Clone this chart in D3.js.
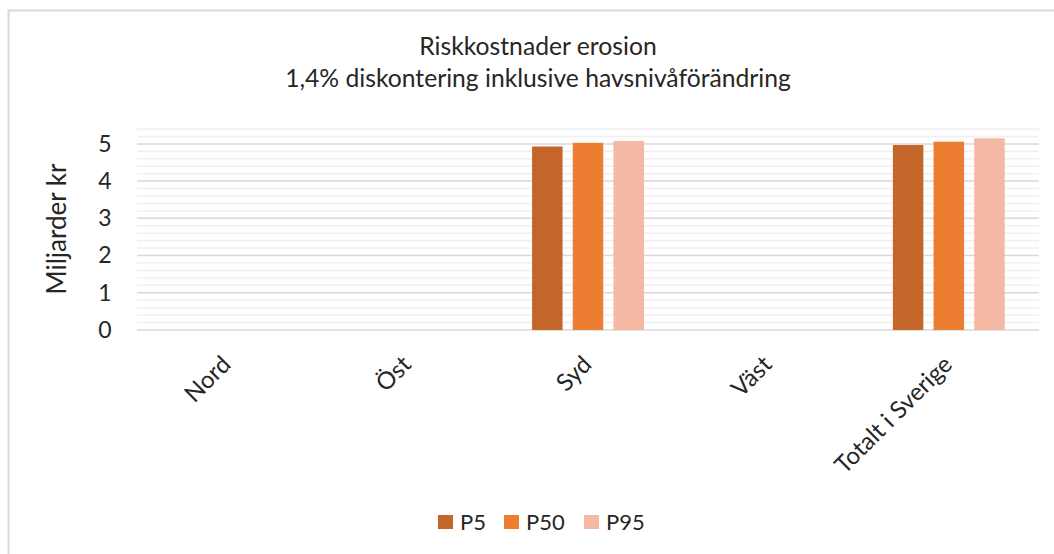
<!DOCTYPE html>
<html><head><meta charset="utf-8">
<script src="https://cdn.jsdelivr.net/npm/d3@7"></script>
<style>body{margin:0;background:#fff;} svg{display:block;} svg text{font-family:Lato,"Open Sans",sans-serif;}</style>
</head><body>
<svg id="c" width="1054" height="554"></svg>
<script>
const categories = ["Nord", "Öst", "Syd", "Väst", "Totalt i Sverige"];
const seriesNames = ["P5", "P50", "P95"];
const P5  = [0, 0, 4.93, 0, 4.97];
const P50 = [0, 0, 5.03, 0, 5.06];
const P95 = [0, 0, 5.08, 0, 5.15];
const yTicks = [0, 1, 2, 3, 4, 5];
const colors = ["#C4652A", "#ED7D31", "#F4B8A4"];
const titleLines = ["Riskkostnader erosion", "1,4% diskontering inklusive havsnivåförändring"];
const yTitle = "Miljarder kr";

(function () {
const svg = d3.select("#c");
svg.append("rect").attr("x", 8.5).attr("y", 10.5).attr("width", 1060).attr("height", 600)
  .attr("fill", "#fff").attr("stroke", "#d9d9d9").attr("stroke-width", 2);

const pL = 137, pR = 1039, pT = 129, pB = 330;
const y = d3.scaleLinear().domain([0, 5.4]).range([pB, pT]);
const x0 = d3.scaleBand().domain(categories).range([pL, pR]).paddingInner(0.38).paddingOuter(0.19);
const x1 = d3.scaleBand().domain(seriesNames).range([0, x0.bandwidth()]).paddingInner(0.25);

const minor = d3.range(0, 5.41, 0.2).filter(v => Math.abs(v - Math.round(v)) > 0.01);
svg.append("g").selectAll("line").data(minor).join("line")
  .attr("x1", pL).attr("x2", pR).attr("y1", d => y(d)).attr("y2", d => y(d))
  .attr("stroke", "#f0f0f0").attr("stroke-width", 1.5);
svg.append("g").selectAll("line").data(yTicks).join("line")
  .attr("x1", pL).attr("x2", pR).attr("y1", d => y(d)).attr("y2", d => y(d))
  .attr("stroke", "#d9d9d9").attr("stroke-width", 1.5);

const yAxis = d3.axisLeft(y).tickValues(yTicks).tickSize(0).tickPadding(0).tickFormat(d3.format("d"));
const ga = svg.append("g").attr("transform", `translate(${pL - 32},0)`).call(yAxis);
ga.select(".domain").remove();
ga.selectAll("text").attr("font-size", 23).attr("fill", "#262626")
  .attr("text-anchor", "middle").attr("dx", 0);

svg.append("text").attr("transform", `translate(66,229) rotate(-90)`).attr("text-anchor", "middle")
  .attr("font-size", 26).attr("fill", "#262626").text(yTitle);

const series = [P5, P50, P95];
const g = svg.append("g");
seriesNames.forEach((s, si) => {
  g.append("g").selectAll("rect").data(categories.map((c, i) => ({c, v: series[si][i]})).filter(d => d.v > 0))
    .join("rect")
    .attr("x", d => x0(d.c) + x1(s)).attr("width", x1.bandwidth())
    .attr("y", d => y(d.v)).attr("height", d => y(0) - y(d.v))
    .attr("fill", colors[si]);
});

const xAxis = d3.axisBottom(x0).tickSize(0).tickPadding(0);
const gx = svg.append("g").attr("transform", `translate(0,${pB})`).call(xAxis);
gx.select(".domain").remove();
gx.selectAll("text").attr("font-size", 24).attr("fill", "#262626")
  .attr("text-anchor", "end").attr("dy", 0).attr("y", 0)
  .attr("transform", "translate(5,36) rotate(-45)");

svg.append("g").selectAll("text").data(titleLines).join("text")
  .attr("x", 538).attr("y", (d, i) => 55 + i * 32).attr("text-anchor", "middle")
  .attr("font-size", 24.7).attr("fill", "#262626").text(d => d);

const legX = [438, 504, 584];
const lg = svg.append("g");
seriesNames.forEach((s, i) => {
  lg.append("rect").attr("x", legX[i]).attr("y", 515).attr("width", 15).attr("height", 14).attr("fill", colors[i]);
  lg.append("text").attr("x", legX[i] + 22).attr("y", 530).attr("font-size", 22).attr("fill", "#262626").text(s);
});
})();
</script>
</body></html>
